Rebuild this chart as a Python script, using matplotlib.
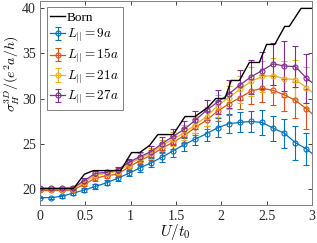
import numpy as np
import matplotlib
matplotlib.use("Agg")
import matplotlib.pyplot as plt

plt.rcParams['font.family'] = ['Liberation Serif', 'DejaVu Serif']
plt.rcParams['mathtext.fontset'] = 'cm'

# ---- data ----
U = [0.0, 0.1225, 0.245, 0.3675, 0.49, 0.6125, 0.735, 0.8575, 0.98, 1.1025,
     1.225, 1.3475, 1.47, 1.5925, 1.715, 1.8375, 1.96, 2.0825, 2.205, 2.3275,
     2.45, 2.5725, 2.695, 2.8175, 2.94, 3.0625]

born_U = [0.0, 0.37, 0.49, 0.59, 0.89, 1.01, 1.10, 1.21, 1.30, 1.47, 1.60, 1.71,
          1.85, 1.94, 2.04, 2.11, 2.20, 2.31, 2.42, 2.50, 2.59, 2.70, 2.75, 2.88, 3.0]
born_sigma = [20, 20, 21.6, 22, 22, 24, 24, 24.8, 26, 26, 28, 28,
              29, 30, 30, 32, 32, 34, 34, 36, 36, 38, 38, 40, 40]

sig_L9 = [19.0, 19.0, 19.15, 19.5, 19.85, 20.25, 20.65, 21.15, 21.7, 22.3,
          22.85, 23.5, 24.2, 24.9, 25.5, 26.1, 26.75, 27.2, 27.35, 27.45,
          27.35, 26.7, 26.15, 25.1, 24.4, 23.4]
err_L9 = [0.05, 0.1, 0.15, 0.2, 0.25, 0.3, 0.3, 0.35, 0.35, 0.4,
          0.5, 0.55, 0.65, 0.75, 0.65, 0.85, 1.05, 1.05, 1.1, 1.15,
          1.35, 1.4, 1.6, 1.9, 1.75, 1.8]

sig_L15 = [19.8, 19.8, 19.8, 19.85, 20.5, 21.15, 21.45, 21.6, 22.4, 23.1,
           23.7, 24.5, 25.15, 25.9, 26.8, 27.6, 28.6, 29.4, 30.1, 30.8,
           31.15, 30.9, 30.4, 29.8, 28.85, 27.8]
err_L15 = [0.1, 0.1, 0.1, 0.15, 0.2, 0.25, 0.3, 0.3, 0.4, 0.45,
           0.55, 0.6, 0.7, 0.8, 0.9, 1.0, 1.1, 1.2, 1.3, 1.4,
           1.5, 1.6, 1.8, 2.0, 2.2, 2.3]

sig_L21 = [19.95, 19.95, 19.95, 20.0, 20.7, 21.5, 21.7, 21.9, 22.7, 23.4,
           23.9, 24.8, 25.5, 26.2, 27.1, 28.0, 29.2, 30.1, 31.0, 31.9,
           32.45, 32.55, 32.2, 32.1, 31.2, 30.2]
err_L21 = [0.1, 0.1, 0.1, 0.15, 0.2, 0.25, 0.3, 0.35, 0.4, 0.5,
           0.6, 0.65, 0.75, 0.85, 0.95, 1.05, 1.2, 1.3, 1.45, 1.6,
           1.75, 1.9, 2.0, 2.2, 2.3, 2.4]

sig_L27 = [20.05, 20.05, 20.05, 20.1, 20.9, 21.7, 21.8, 22.1, 22.9, 23.55,
           24.1, 25.0, 25.8, 26.6, 27.6, 28.7, 29.6, 30.5, 31.5, 32.4,
           33.1, 33.85, 33.6, 33.55, 32.25, 31.3]
err_L27 = [0.1, 0.1, 0.15, 0.2, 0.25, 0.3, 0.3, 0.35, 0.4, 0.5,
           0.6, 0.7, 0.8, 0.9, 1.0, 1.1, 1.3, 1.5, 1.7, 1.9,
           2.1, 2.3, 2.8, 2.3, 2.7, 2.7]

labels = [r'$L_{||}=9a$', r'$L_{||}=15a$', r'$L_{||}=21a$', r'$L_{||}=27a$']
colors = ['#0072BD', '#D95319', '#EDB120', '#7E2F8E']
series = [(sig_L9, err_L9), (sig_L15, err_L15), (sig_L21, err_L21), (sig_L27, err_L27)]

fig = plt.figure(figsize=(3.17, 2.43), dpi=100)
ax = fig.add_axes([0.126, 0.157, 0.858, 0.84])

ax.plot(born_U, born_sigma, color='black', lw=1.0, label='Born', zorder=5)
for (s, e), c, lab in zip(series, colors, labels):
    ax.errorbar(U, s, yerr=e, color=c, lw=0.9, marker='o', ms=3.6,
                mfc='none', mew=0.8, capsize=2.2, capthick=0.8, elinewidth=0.8,
                label=lab)

ax.set_xlim(0, 3)
ax.set_ylim(18.2, 40.85)
ax.set_xticks([0, 0.5, 1, 1.5, 2, 2.5, 3])
ax.set_xticklabels(['0', '0.5', '1', '1.5', '2', '2.5', '3'])
ax.set_yticks([20, 25, 30, 35, 40])
ax.tick_params(direction='in', top=True, right=True, length=3, width=0.6,
               labelsize=10, colors='#262626', pad=4)
ax.tick_params(axis='y', pad=3)
for sp in ax.spines.values():
    sp.set_color('#808080')
    sp.set_linewidth(0.7)

ax.set_xlabel(r'$U/t_0$', fontsize=11)
ax.xaxis.set_label_coords(0.496, -0.085)
ax.set_ylabel(r'$\sigma_H^{3D}/(e^2a/h)$', fontsize=10)
ax.yaxis.set_label_coords(-0.069, 0.64)

leg = ax.legend(loc='upper left', handlelength=1.1,
                handletextpad=0.15, borderpad=0.3, labelspacing=0.25,
                fancybox=False, framealpha=1, edgecolor='#808080',
                borderaxespad=0.5, prop={'family': 'Liberation Serif', 'size': 9.5})
leg.get_frame().set_linewidth(0.7)

fig.savefig('out.png', dpi=100)
